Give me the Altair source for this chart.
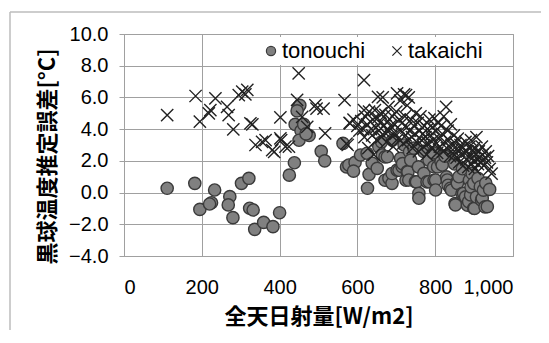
import altair as alt
import pandas as pd

# tonouchi (circles): global solar radiation [W/m2], globe temp estimation error [°C]
ton_x = [111, 182, 195, 225, 220, 233, 272, 268, 280, 302, 321, 323, 332, 336, 359, 383, 400, 425, 438,
         448, 452, 445, 440, 455, 462, 450, 476, 468, 507, 516,
         563, 572, 578, 594, 590, 608, 625, 626, 630, 638, 651, 655, 662, 664, 671, 671, 677, 681, 689, 689,
         690, 702, 707, 711, 715, 716, 720, 725, 728, 730, 732, 734, 737, 745, 749, 752, 757, 758, 758, 770,
         771, 779, 784, 784, 795, 796, 797, 801, 801, 806, 815, 818, 825, 829, 831, 833, 839, 842, 850, 851,
         852, 856, 857, 861, 869, 870, 873, 878, 883, 886, 888, 891, 892, 895, 899, 899, 901, 906, 910, 916,
         919, 921, 924, 928, 930, 934, 940]
ton_y = [0.27, 0.58, -1.06, -0.64, -0.72, 0.16, -0.26, -0.78, -1.58, 0.58, 0.9, -0.99, -1.1, -2.32, -1.88, -2.15, -1.27, 1.1, 1.88,
         5.37, 5.5, 5.15, 4.3, 3.9, 4.3, 3.3, 3.6, 3.7, 2.6, 2.0,
         3.1, 1.62, 1.74, 1.9, 1.35, 2.37, 2.48, 0.27, 1.15, 1.85, 1.53, 2.9, 3.2, 2.37, 2.25, 0.78, 2.26, 0.9, 0.58, 1.2,
         3.3, 1.42, 1.41, 2.16, 1.63, 1.83, 3.0, 0.78, 1.32, 1.3, 0.79, 2.57, 2.05, 2.8, 0.68, 0.67, 1.62, -0.05, -0.36, 2.6,
         1.21, 0.67, 0.68, 2.04, 2.5, 1.63, 0.78, 0.79, 0.16, 1.62, 1.94, 1.74, 2.3, 0.99, 0.79, 0.46, 0.27, 0.15, 1.8, -0.69,
         -0.78, 0.67, 0.58, 1.0, -0.06, 1.5, -0.05, -0.27, -0.8, -0.57, 0.78, -0.15, 0.36, 1.2, -0.99, 0.58, -1.0, -0.27, 0.9, 0.37,
         -0.48, -0.36, 0.15, -0.9, 0.6, -0.89, 0.2]

# takaichi (crosses)
tak_x = [111, 184, 195, 235, 222, 218, 265, 269, 281, 295, 304, 317, 312, 325, 330, 338, 355, 364, 381, 386,
         402, 402, 404, 415, 424, 449, 445, 458, 471, 492, 495, 513, 517, 567, 617, 581, 572,
         575, 580, 590, 600, 605, 610, 615, 617, 618, 620, 625, 628, 630, 635, 638, 640, 642, 645, 648, 650, 652,
         653, 655, 658, 660, 662, 665, 668, 670, 672, 675, 678, 680, 682, 685, 688, 690, 692, 695, 698, 700, 702,
         705, 708, 710, 712, 715, 718, 720, 722, 724, 725, 726, 728, 730, 732, 735, 738, 740, 742, 745, 748, 750,
         752, 755, 758, 760, 762, 765, 768, 770, 772, 775, 778, 780, 782, 785, 788, 790, 792, 795, 798, 800,
         802, 805, 808, 810, 812, 815, 818, 820, 822, 825, 828, 830, 832, 835, 838, 840, 842, 845, 848, 850,
         852, 855, 858, 860, 862, 865, 868, 870, 872, 875, 878, 880, 882, 885, 888, 890, 892, 894, 896, 898,
         900, 902, 904, 906, 908, 910, 912, 915, 918, 920, 922, 925, 928, 930, 933, 936, 940, 945]
tak_y = [4.89, 6.09, 4.47, 5.94, 5.2, 5.0, 5.41, 4.89, 3.99, 6.15, 6.36, 6.47, 6.2, 4.37, 4.3, 3.0, 3.2, 3.3, 2.68, 2.57,
         4.74, 3.42, 3.3, 2.9, 2.89, 7.52, 5.84, 4.78, 4.15, 5.52, 5.3, 5.3, 3.73, 5.83, 7.09, 4.36, 3.09,
         3.0, 4.4, 4.6, 4.2, 3.9, 4.5, 4.0, 5.2, 3.5, 4.8, 4.3, 2.8, 5.1, 4.0, 3.6, 4.6, 2.4, 5.2, 4.1, 3.3, 4.7,
         6.04, 3.9, 4.4, 5.0, 3.5, 6.0, 4.2, 3.8, 4.9, 3.2, 4.5, 5.4, 3.9, 4.2, 3.6, 4.8, 2.9, 4.3, 3.7, 5.1, 6.25,
         3.4, 4.6, 5.8, 3.9, 4.4, 3.1, 6.2, 4.8, 3.6, 6.15, 4.1, 5.5, 3.3, 6.0, 3.9, 4.6, 3.5, 2.8, 4.2, 3.7, 5.0,
         3.2, 4.4, 2.6, 3.9, 4.8, 3.3, 3.7, 2.9, 4.2, 3.5, 2.4, 4.0, 3.1, 4.6, 3.6, 2.8, 4.1, 3.3, 4.7, 3.0,
         3.9, 2.5, 4.4, 3.4, 2.9, 4.2, 3.7, 2.6, 4.8, 3.2, 5.4, 2.8, 3.9, 3.3, 2.3, 4.3, 3.0, 2.7, 3.6, 2.4,
         3.1, 2.2, 3.4, 2.7, 1.9, 3.0, 2.4, 2.8, 1.7, 2.5, 3.2, 2.1, 2.6, 1.6, 2.9, 2.3, 3.3, 1.8, 2.6, 2.0,
         2.8, 1.5, 2.4, 3.5, 2.1, 1.8, 2.6, 2.2, 1.9, 2.9, 2.4, 1.7, 2.2, 2.6, 1.9, 2.3, 1.5, 1.2]

series_names = ["tonouchi", "takaichi"]
x_ticks = [0, 200, 400, 600, 800, 1000]
y_ticks = [-4, -2, 0, 2, 4, 6, 8, 10]

rows = [{"x": a, "y": b, "s": "tonouchi", "o": 0} for a, b in zip(ton_x, ton_y)]
rows += [{"x": a, "y": b, "s": "takaichi", "o": 1} for a, b in zip(tak_x, tak_y)]
df = pd.DataFrame(rows)

XPATH = "M-1,-1L1,1M-1,1L1,-1"
LAT = "Liberation Sans"
CJK = "Noto Sans CJK JP"
GRID = "#a0a0a0"

legend = alt.Legend(
    title=None, orient="none", legendX=133, legendY=3, direction="horizontal",
    fillColor="white", padding=3, labelFont=LAT, labelFontSize=22, labelColor="black",
    symbolSize=85, symbolStrokeWidth=1.2, labelOffset=0, columnPadding=20,
)

points = alt.Chart(df).mark_point(size=150, strokeWidth=1.4, opacity=1).encode(
    x=alt.X("x:Q", scale=alt.Scale(domain=[0, 1000], nice=False),
            axis=alt.Axis(values=x_ticks, format=",d", title="全天日射量[W/m2]",
                          labelFont=LAT, labelFontSize=20, labelColor="black",
                          ticks=False, labelPadding=21, domainColor=GRID,
                          grid=True, gridColor=GRID, titleFont=CJK, titleFontSize=22,
                          titleFontWeight="bold", titleColor="black",
                          titleY=60, titleBaseline="middle")),
    y=alt.Y("y:Q", scale=alt.Scale(domain=[-4, 10], nice=False),
            axis=alt.Axis(values=y_ticks, format=".1f", title="黒球温度推定誤差[°C]",
                          labelFont=LAT, labelFontSize=20, labelColor="black",
                          tickSize=5, tickColor=GRID, labelPadding=11, domainColor=GRID,
                          grid=True, gridColor=GRID, titleFont=CJK, titleFontSize=22,
                          titleFontWeight="bold", titleColor="black",
                          titleX=-77, titleY=122, titleBaseline="middle", titleAlign="center")),
    shape=alt.Shape("s:N", scale=alt.Scale(domain=series_names, range=["circle", XPATH]), legend=legend),
    fill=alt.Fill("s:N", scale=alt.Scale(domain=series_names, range=["#808080", "transparent"]), legend=legend),
    stroke=alt.Stroke("s:N", scale=alt.Scale(domain=series_names, range=["#3a3a3a", "#222222"]), legend=legend),
    order=alt.Order("o:Q"),
)

frame = pd.DataFrame({"a": [0]})
border_v = alt.Chart(frame).mark_rule(color="#bdbdbd", strokeWidth=1.5).encode(
    x=alt.value(-114), y=alt.value(-22), y2=alt.value(400))
border_h = alt.Chart(frame).mark_rule(color="#bdbdbd", strokeWidth=1.5).encode(
    x=alt.value(-114), x2=alt.value(500), y=alt.value(-22))

chart = alt.layer(border_v, border_h, points).properties(
    width=389, height=222,
    autosize=alt.AutoSizeParams(type="none"),
    padding={"left": 116, "top": 26, "right": 28, "bottom": 74},
).configure_view(stroke=GRID).configure_axis(gridWidth=1, domainWidth=1)

chart.save("out.html", embed_options={"renderer": "svg", "actions": False})
